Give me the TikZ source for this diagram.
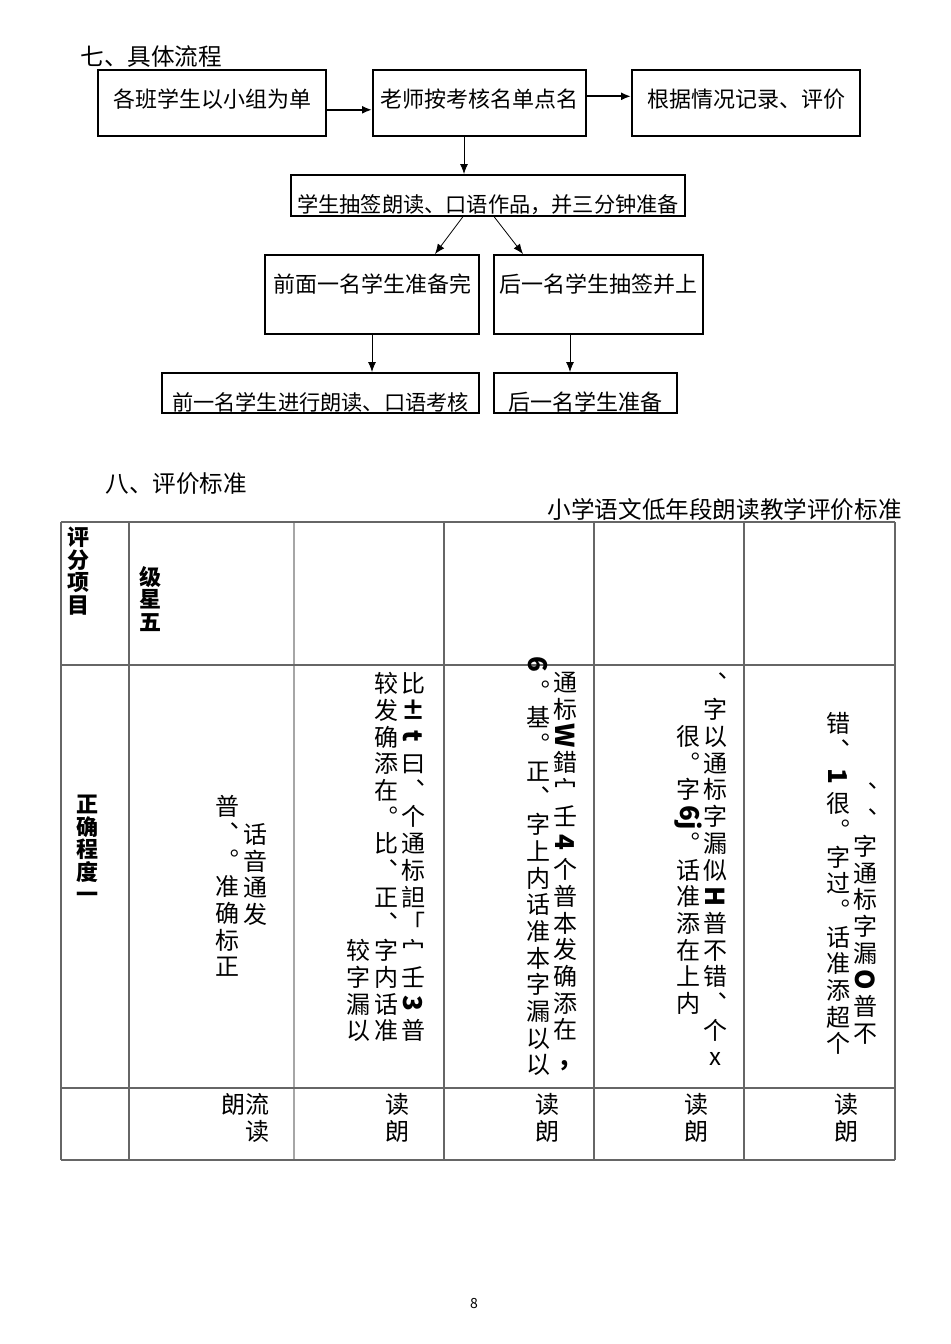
\documentclass[tikz,border=0pt]{standalone}
\usepackage{fontspec}
\setmainfont{Noto Sans CJK SC}
\usepackage{graphicx}
\usetikzlibrary{arrows.meta, positioning}

% rotated bold latin glyphs inside the vertical columns
\newcommand{\rt}[1]{\raisebox{0pt}[10.5pt][2.5pt]{\rotatebox[origin=c]{-90}{\fontsize{13}{13}\selectfont\bfseries #1}}}
% vertical punctuation
\newcommand{\vd}{︑}
\newcommand{\vj}{︒}

\begin{document}
\begin{tikzpicture}[x=0.5pt, y=-0.5pt, >={Latex[length=5pt,width=4pt]},
  flowbox/.style={draw, line width=1pt, inner sep=0pt, text height=18.5pt, font=\fontsize{11}{12}\selectfont},
  head/.style={anchor=base west, inner sep=0pt, font=\fontsize{11.8}{13}\selectfont},
  vcol/.style={anchor=north, inner sep=0pt, align=center, font=\fontsize{12}{13.35}\selectfont},
  vhead/.style={anchor=north, inner sep=0pt, align=center, font=\fontsize{11}{11.2}\selectfont\bfseries},
  tabline/.style={draw=black!60, line width=0.6pt}]
  \useasboundingbox (0,0) rectangle (950,1344);

  % section 7: flow
  \node [head] (title7) at (80,65) {七、具体流程};
  \node [flowbox, minimum width=114pt, text depth=14.3pt, anchor=north west] (group) at (97,69) {各班学生以小组为单};
  \node [flowbox, minimum width=106.5pt, text depth=14.3pt, right=22.5pt of group] (call) {老师按考核名单点名};
  \node [flowbox, minimum width=114pt, text depth=14.3pt, right=22pt of call] (record) {根据情况记录、评价\hspace{12pt}};
  \node [flowbox, minimum width=197pt, text depth=1.8pt, anchor=north west, font=\fontsize{10.6}{12}\selectfont] (lots) at (290,174) {学生抽签朗读、口语作品，并三分钟准备};
  \node [flowbox, minimum width=107pt, text depth=20.8pt, anchor=north west] (ready) at (264,254) {前面一名学生准备完};
  \node [flowbox, minimum width=104.5pt, text depth=20.8pt, right=6.5pt of ready] (next) {后一名学生抽签并上};
  \node [flowbox, minimum width=158.5pt, text depth=1.3pt, anchor=north west, font=\fontsize{10.6}{12}\selectfont] (exam) at (161,372) {前一名学生进行朗读、口语考核};
  \node [flowbox, minimum width=91.5pt, text depth=1.3pt, anchor=north west] (prep) at (493,372) {后一名学生准备\hspace{8pt}};

  \draw [->, line width=0.9pt] ([yshift=-3.5pt]group.east) -- ([yshift=-3.5pt]call.west);
  \draw [->, line width=0.9pt] ([yshift=3.25pt]call.east) -- ([yshift=3.25pt]record.west);
  \draw [->] ([xshift=-7.75pt]call.south) -- ([xshift=-7.75pt]call.south |- lots.north);
  \draw [->] ([xshift=-12.5pt]lots.south) -- ([xshift=31.5pt]ready.north);
  \draw [->] ([xshift=3pt]lots.south) -- ([xshift=-37.75pt]next.north);
  \draw [->] (ready.south) -- (ready.south |- exam.north);
  \draw [->] ([xshift=-14.25pt]next.south) -- ([xshift=-14.25pt]next.south |- prep.north);

  % section 8: table
  \node [head] (title8) at (105,492) {八、评价标准};
  \node [head, anchor=base east] (caption) at (902,518) {小学语文低年段朗读教学评价标准};

  \foreach \x in {61,129,444,594,744,895}
    \draw [tabline] (\x,522) -- (\x,1160);
  \draw [tabline, draw=black!35] (294,522) -- (294,1160);
  \foreach \y in {522,665,1088,1160}
    \draw [tabline] (61,\y) -- (895,\y);

  \node [vhead] (item) at (79,527) {评\\分\\项\\目};
  \node [vhead] (star) at (150,566) {级\\星\\五};
  \node [vhead] (accuracy) at (87,795) {正\\确\\程\\度\\一};

  \node [vcol] (c2a) at (255,823) {话\\音\\通\\发};
  \node [vcol] (c2b) at (227,795) {普\\\vd\\\vj\\准\\确\\标\\正};

  \node [vcol] (c3a) at (413,672) {比\\\textbf{±}\\\rt{t}\\曰\\\vd\\个\\通\\标\\詚\\「\\宀\\壬\\\rt{3}\\普};
  \node [vcol] (c3b) at (386,672) {较\\发\\确\\添\\在\\\vj\\比\\\vd\\正\\\vd\\字\\内\\话\\准};
  \node [vcol] (c3c) at (358,939) {较\\字\\漏\\以};

  \node [vcol] (c4a) at (565,672) {通\\标\\\rt{W}\\錯\\宀\\壬\\\rt{4}\\个\\普\\本\\发\\确\\添\\在\\\textbf{,}};
  \node [vcol] (c4b) at (538,652) {\rt{6}\\\vj\\基\\\vj\\正\\\vd\\字\\上\\内\\话\\准\\本\\字\\漏\\以\\以};

  \node [vcol] (c5a) at (715,672) {\vd\\字\\以\\通\\标\\字\\漏\\似\\\rt{H}\\普\\不\\错\\\vd\\个\\x};
  \node [vcol] (c5b) at (688,725) {很\\\vj\\字\\\rt{6j}\\\vj\\话\\准\\添\\在\\上\\内};

  \node [vcol] (c6a) at (865,782) {\vd\\\vd\\字\\通\\标\\字\\漏\\\rt{O}\\普\\不};
  \node [vcol] (c6b) at (838,712) {错\\\vd\\\rt{1}\\很\\\vj\\字\\过\\\vj\\话\\准\\添\\超\\个};

  \node [vcol] (r3a) at (257,1093) {流\\读};
  \node [vcol] (r3b) at (233,1093) {朗};
  \node [vcol] (r3c) at (397,1093) {读\\朗};
  \node [vcol] (r3d) at (547,1093) {读\\朗};
  \node [vcol] (r3e) at (696,1093) {读\\朗};
  \node [vcol] (r3f) at (846,1093) {读\\朗};

  \node [font=\fontsize{7}{8}\selectfont, inner sep=0pt] (page) at (474,1303) {8};
\end{tikzpicture}
\end{document}
